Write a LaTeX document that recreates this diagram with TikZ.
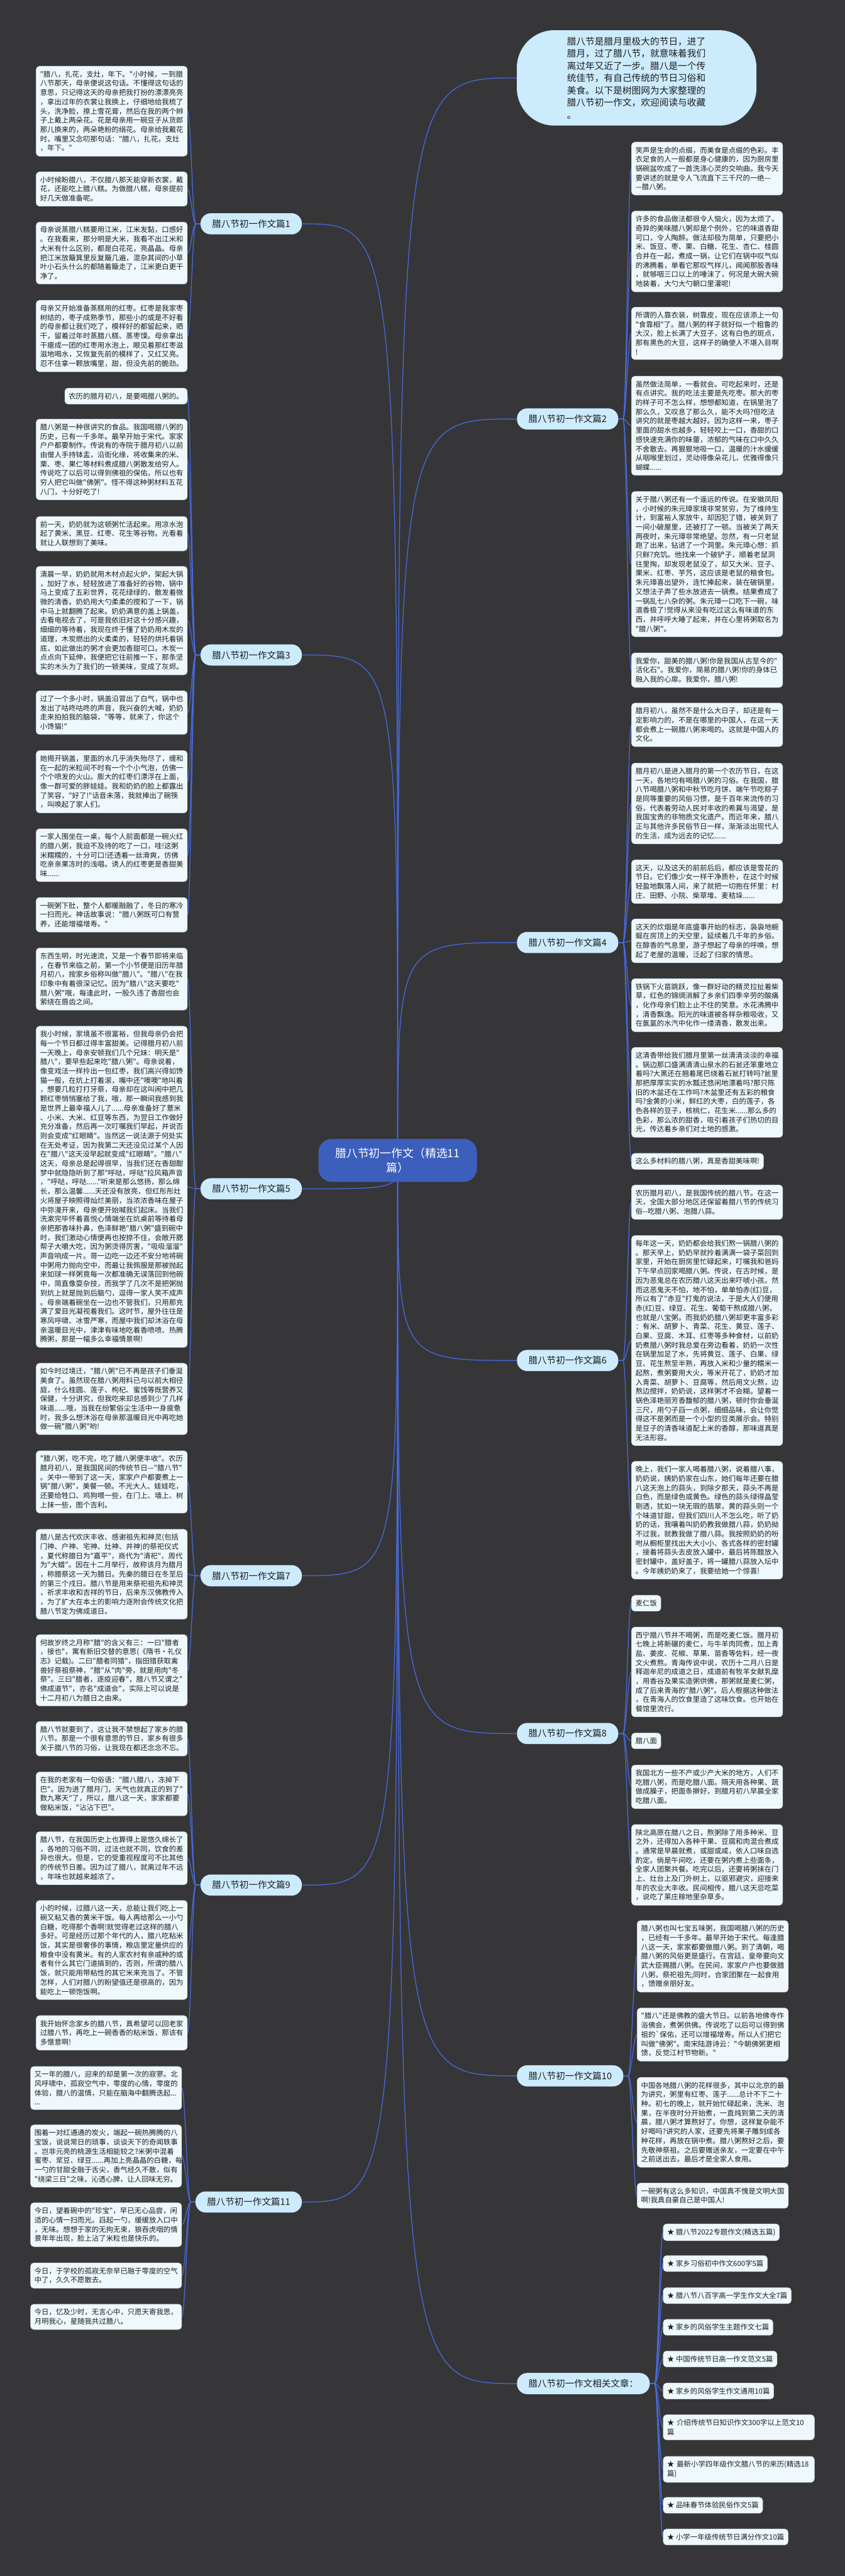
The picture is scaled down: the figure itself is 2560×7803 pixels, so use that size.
\documentclass[tikz,border=0pt]{standalone}
\usepackage{fontspec}
\setmainfont{Noto Sans CJK SC}[Ligatures=TeXOff]
\usetikzlibrary{backgrounds}
\definecolor{bgdark}{RGB}{54,54,56}
\definecolor{linkblue}{RGB}{72,106,222}
\definecolor{leaffill}{RGB}{239,249,253}
\definecolor{leafline}{RGB}{205,220,230}
\definecolor{pillfill}{RGB}{204,235,252}
\definecolor{rootblue}{RGB}{60,95,190}
\definecolor{inkdark}{RGB}{30,30,30}
\begin{document}
\begin{tikzpicture}[x=0.5pt,y=-0.5pt,
  leafbase/.style={draw=leafline,line width=0.5pt,fill=leaffill,rounded corners=5pt,inner xsep=6pt,inner ysep=7pt,text=inkdark,font=\fontsize{10.85pt}{14pt}\selectfont},
  leafbox/.style={leafbase,text width=217pt,align=left},
  pillnode/.style={fill=pillfill,rounded corners=15.5pt,minimum height=32pt,inner xsep=17.5pt,text=inkdark,font=\fontsize{13.85pt}{16pt}\selectfont},
  introbubble/.style={fill=pillfill,rounded corners=57pt,minimum width=363pt,minimum height=144.5pt,text width=211pt,align=left,text=inkdark,font=\fontsize{14pt}{18.6pt}\selectfont},
  rootnode/.style={fill=rootblue,rounded corners=20pt,minimum width=240pt,minimum height=65pt,align=center,text=white,font=\fontsize{17pt}{22pt}\selectfont},
  link/.style={draw=linkblue,line width=1.2pt}]
\useasboundingbox (0,0) rectangle (2560,7803);
\begin{scope}[on background layer]
\fill[bgdark] (0,0) rectangle (2560,7803);
\end{scope}

% centre and intro
\node[rootnode] (root) at (1205,3515) {腊八节初一作文（精选11\\篇）};
\node[introbubble] (intro) at (1929,236) {腊八节是腊月里极大的节日，进了\\腊月，过了腊八节，就意味着我们\\离过年又近了一步。腊八是一个传\\统佳节，有自己传统的节日习俗和\\美食。以下是树图网为大家整理的\\腊八节初一作文，欢迎阅读与收藏\\。};

% branches
\node[pillnode,anchor=east] (p1) at (915,678) {腊八节初一作文篇1};
\node[pillnode,anchor=east] (p3) at (915,1984) {腊八节初一作文篇3};
\node[pillnode,anchor=east] (p5) at (915,3601) {腊八节初一作文篇5};
\node[pillnode,anchor=east] (p7) at (915,4773) {腊八节初一作文篇7};
\node[pillnode,anchor=east] (p9) at (915,5710) {腊八节初一作文篇9};
\node[pillnode,anchor=east] (p11) at (915,6670) {腊八节初一作文篇11};
\node[pillnode,anchor=west] (p2) at (1566,1269) {腊八节初一作文篇2};
\node[pillnode,anchor=west] (p4) at (1566,2855) {腊八节初一作文篇4};
\node[pillnode,anchor=west] (p6) at (1566,4121) {腊八节初一作文篇6};
\node[pillnode,anchor=west] (p8) at (1566,5251) {腊八节初一作文篇8};
\node[pillnode,anchor=west] (p10) at (1566,6288) {腊八节初一作文篇10};
\node[pillnode,anchor=west] (prel) at (1566,7220) {腊八节初一作文相关文章：};

% essay 1
\node[leafbox,anchor=north east] (l1a) at (568,200) {"腊八，扎花，支灶，年下。"小时候，一到腊\\八节那天，母亲便说这句话。不懂得这句话的\\意思，只记得这天的母亲把我打扮的漂漂亮亮\\，拿出过年的衣裳让我换上，仔细地给我梳了\\头，洗净脸，擦上雪花膏，然后在我的两个辫\\子上戴上两朵花。花是母亲用一碗豆子从货郎\\那儿换来的，两朵艳粉的绢花。母亲给我戴花\\时，嘴里又念叨那句话："腊八，扎花，支灶\\，年下。"};
\node[leafbox,anchor=north east] (l1b) at (568,520) {小时候盼腊八，不仅腊八那天能穿新衣裳，戴\\花，还能吃上腊八糕。为做腊八糕，母亲提前\\好几天做准备呢。};
\node[leafbox,anchor=north east] (l1c) at (568,672) {母亲说蒸腊八糕要用江米，江米发黏，口感好\\。在我看来，那分明是大米，我看不出江米和\\大米有什么区别，都是白花花，亮晶晶。母亲\\把江米放簸箕里反复簸几遍，混杂其间的小草\\叶小石头什么的都随着簸走了，江米更白更干\\净了。};
\node[leafbox,anchor=north east] (l1d) at (568,909) {母亲又开始准备蒸糕用的红枣。红枣是我家枣\\树结的，枣子成熟季节，那些小的或是不好看\\的母亲都让我们吃了，模样好的都留起来，晒\\干，留着过年时蒸腊八糕、蒸枣馍。母亲拿出\\干瘪成一团的红枣用水泡上，眼见着那红枣滋\\滋地喝水，又恢复先前的模样了，又红又亮。\\忍不住拿一颗放嘴里，甜，但没先前的脆劲。};

% essay 3
\node[leafbase,anchor=north east] (l3a) at (568,1175) {农历的腊月初八，是要喝腊八粥的。};
\node[leafbox,anchor=north east] (l3b) at (568,1269) {腊八粥是一种很讲究的食品。我国喝腊八粥的\\历史，已有一千多年。最早开始于宋代。家家\\户户都要制作。传说有的寺院于腊月初八以前\\由僧人手持钵盂，沿街化缘，将收集来的米、\\栗、枣、果仁等材料煮成腊八粥散发给穷人。\\传说吃了以后可以得到佛祖的保佑，所以也有\\穷人把它叫做"佛粥"。怪不得这种粥材料五花\\八门，十分好吃了!};
\node[leafbox,anchor=north east] (l3c) at (568,1564) {前一天，奶奶就为这顿粥忙活起来。用凉水泡\\起了黄米、黑豆、红枣、花生等谷物。光看着\\就让人联想到了美味。};
\node[leafbox,anchor=north east] (l3d) at (568,1715) {清晨一早，奶奶就用木材点起火炉，架起大锅\\，加好了水，轻轻放进了准备好的谷物，锅中\\马上变成了五彩世界，花花绿绿的，散发着微\\微的清香。奶奶用大勺柔柔的搅和了一下，锅\\中马上就翻腾了起来。奶奶满意的盖上锅盖，\\去看电视去了，可是我依旧对这十分感兴趣，\\细细的等待着，我现在终于懂了奶奶用木炭的\\道理，木炭燃出的火柔柔的，轻轻的烘托着锅\\底，如此做出的粥才会更加香甜可口。木炭一\\点点向下延伸，我便把它往前推一下，那条坚\\实的木头为了我们的一顿美味，变成了灰烬。};
\node[leafbox,anchor=north east] (l3e) at (568,2092) {过了一个多小时，锅盖沿冒出了白气，锅中也\\发出了咕咚咕咚的声音，我兴奋的大喊，奶奶\\走来拍拍我的脑袋，"等等，就来了，你这个\\小馋猫!"};
\node[leafbox,anchor=north east] (l3f) at (568,2273) {她揭开锅盖，里面的水几乎消失殆尽了，缠和\\在一起的米粒间不时有一个个小气泡，仿佛一\\个个喷发的火山。膨大的红枣们漂浮在上面，\\像一群可爱的胖娃娃。我和奶奶的脸上都露出\\了笑容，"好了!"话音未落，我就捧出了碗筷\\，叫唤起了家人们。};
\node[leafbox,anchor=north east] (l3g) at (568,2510) {一家人围坐在一桌，每个人前面都是一碗火红\\的腊八粥，我迫不及待的吃了一口，哇!这粥\\米糯糯的，十分可口!还透着一丝滑爽，仿佛\\吃亲亲果冻时的浅唱。诱人的红枣更是香甜美\\味......};
\node[leafbox,anchor=north east] (l3h) at (568,2718) {一碗粥下肚，整个人都暖融融了，冬日的寒冷\\一扫而光。神话故事说："腊八粥既可口有营\\养，还能增福增寿。"};

% essay 5
\node[leafbox,anchor=north east] (l5a) at (568,2871) {东西生明，时光速流，又是一个春节即将来临\\，在春节来临之前，第一个小节便是旧历年腊\\月初八，按家乡俗称叫做"腊八"。"腊八"在我\\印象中有着很深记忆。因为"腊八"这天要吃"\\腊八粥"哦，每逢此时，一股久违了香甜也会\\萦绕在唇齿之间。};
\node[leafbox,anchor=north east] (l5b) at (568,3108) {我小时候，家境虽不很富裕，但我母亲仍会把\\每一个节日都过得丰富甜美。记得腊月初八前\\一天晚上，母亲安顿我们几个兄妹：明天是"\\腊八"，要早些起来吃"腊八粥"。母亲说着，\\像变戏法一样拎出一包红枣，我们高兴得如馋\\猫一般，在炕上打着滚，嘴中还"噢噢"地叫着\\，想要几粒打打牙祭，母亲却在这叫闹中把几\\颗红枣悄悄塞给了我，哦，那一瞬间我感到我\\是世界上最幸福人儿了......母亲准备好了薏米\\、小米、大米、红豆等东西，为翌日工作做好\\充分准备，然后再一次叮嘱我们早起，并说否\\则会变成"红眼睛"。当然这一说法源于何处实\\在无处考证，因为我第二天还没见过某个人因\\在"腊八"这天没早起就变成"红眼睛"。"腊八"\\这天，母亲总是起得很早，当我们还在香甜酣\\梦中就隐隐听到了那"呼哒，呼哒"拉风箱声音\\，"呼哒，呼哒......"听来是那么悠扬，那么绵\\长，那么温馨......天还没有放亮，但红彤彤灶\\火将屋子映照得灿烂美丽，当浓浓香味在屋子\\中弥漫开来，母亲便开始喊我们起床。当我们\\洗漱完毕怀着喜悦心情端坐在炕桌前等待着母\\亲把那香味扑鼻，色泽鲜艳"腊八粥"盛到碗中\\时，我们激动心情便再也按捺不住，会敞开腮\\帮子大嚼大吃，因为粥烫得厉害，"吸吸溜溜"\\声音响成一片。哥一边吃一边还不安分地将碗\\中粥用力抛向空中，而最让我佩服是那被抛起\\来如球一样粥竟每一次都准确无误落回到他碗\\中，简直像耍杂技，而我学了几次不是把粥抛\\到炕上就是抛到后脑勺，逗得一家人笑不成声\\。母亲端着碗坐在一边也不管我们，只用那充\\满了爱目光凝视着我们。这时节，屋外往往是\\寒风呼啸、冰雪严寒，而屋中我们却沐浴在母\\亲温暖目光中，津津有味地吃着香喷喷、热腾\\腾粥，那是一幅多么幸福情景啊!};
\node[leafbox,anchor=north east] (l5c) at (568,4129) {如今时过境迁，"腊八粥"已不再是孩子们垂涎\\美食了。虽然现在腊八粥用料已与以前大相径\\庭，什么桂圆、莲子、枸杞、蜜饯等既营养又\\保健，十分讲究，但我吃来却总感到少了几样\\味道......哦，当我在纷繁俗尘生活中一身疲惫\\时，我多么想沐浴在母亲那温暖目光中再吃她\\做一碗"腊八粥"哟!};

% essay 7
\node[leafbox,anchor=north east] (l7a) at (568,4394) {"腊八粥，吃不完，吃了腊八粥便丰收"。农历\\腊月初八，是我国民间的传统节日—"腊八节"\\。关中一带到了这一天，家家户户都要煮上一\\锅"腊八粥"，美餐一顿。不光大人、娃娃吃，\\还要给牲口、鸡狗喂一些，在门上、墙上、树\\上抹一些，图个吉利。};
\node[leafbox,anchor=north east] (l7b) at (568,4632) {腊八是古代欢庆丰收、感谢祖先和神灵(包括\\门神、户神、宅神、灶神、井神)的祭祀仪式\\，夏代称腊日为"嘉平"，商代为"清祀"，周代\\为"大蜡"。因在十二月举行，故称该月为腊月\\，称腊祭这一天为腊日。先秦的腊日在冬至后\\的第三个戌日。腊八节是用来祭祀祖先和神灵\\，祈求丰收和吉祥的节日，后来东汉佛教传入\\，为了扩大在本土的影响力逐附会传统文化把\\腊八节定为佛成道日。};
\node[leafbox,anchor=north east] (l7c) at (568,4951) {何故岁终之月称"腊"的含义有三：一曰"腊者\\，接也"，寓有新旧交替的意思(《隋书·礼仪\\志》记载)。二曰"腊者同猎"，指田猎获取禽\\兽好祭祖祭神，"腊"从"肉"旁，就是用肉"冬\\祭"。三曰"腊者，逐疫迎春"，腊八节又谓之"\\佛成道节"，亦名"成道会"，实际上可以说是\\十二月初八为腊日之由来。};

% essay 9
\node[leafbox,anchor=north east] (l9a) at (568,5214) {腊八节就要到了，这让我不禁想起了家乡的腊\\八节。那是一个很有意思的节日，家乡有很多\\关于腊八节的习俗，让我现在都还念念不忘。};
\node[leafbox,anchor=north east] (l9b) at (568,5367) {在我的老家有一句俗语："腊八腊八，冻掉下\\巴"。因为进了腊月门，天气也就真正的到了"\\数九寒天"了，所以，腊八这一天，家家都要\\做粘米饭，"沾沾下巴"。};
\node[leafbox,anchor=north east] (l9c) at (568,5548) {腊八节，在我国历史上也算得上是悠久绵长了\\，各地的习俗不同，过法也就不同，饮食的差\\异也很大。但是，它的受重视程度可不比其他\\的传统节日差。因为过了腊八，就离过年不远\\，年味也就越来越浓了。};
\node[leafbox,anchor=north east] (l9d) at (568,5756) {小的时候，过腊八这一天，总能让我们吃上一\\碗又粘又香的黄米干饭。每人再给那么一小勺\\白糖，吃得那个香啊!就觉得老过这样的腊八\\多好。可是经历过那个年代的人，腊八吃粘米\\饭，其实是很奢侈的事情，粮店里定量供应的\\粮食中没有黄米。有的人家农村有亲戚种的或\\者有什么其它门道搞到的，否则，所谓的腊八\\饭，就只能用带粘性的其它米来充当了。不管\\怎样，人们对腊八的盼望值还是很高的，因为\\能吃上一顿饱饭啊。};
\node[leafbox,anchor=north east] (l9e) at (568,6105) {我开始怀念家乡的腊八节，真希望可以回老家\\过腊八节，再吃上一碗香香的粘米饭，那该有\\多惬意啊!};

% essay 11
\node[leafbox,anchor=north east] (l11a) at (551,6259) {又一年的腊八，迎来的却是第一次的寂寥。北\\风呼啸中，孤寂空气中，零度的心情，零度的\\体验，腊八的温情，只能在脑海中翻腾迭起...\\...};
\node[leafbox,anchor=north east] (l11b) at (551,6436) {围着一对红通通的炭火，端起一碗热腾腾的八\\宝饭，说说常日的琐事，谈谈天下的奇闻轶事\\。岂非元亮的桃源生活相能较之?米粥中混着\\蜜枣、浆豆、绿豆......再加上亮晶晶的白糖，每\\一勺的甘甜全融于舌尖，香气经久不散，似有\\"绕梁三日"之味，沁透心脾，让人回味无穷。};
\node[leafbox,anchor=north east] (l11c) at (551,6672) {今日，望着碗中的"珍宝"，早已无心品尝，闲\\适的心情一扫而光。舀起一勺，缓缓放入口中\\，无味。想想于家的无拘无束，狼吞虎咽的情\\景年年出现，脸上沾了米粒也是快乐的。};
\node[leafbox,anchor=north east] (l11d) at (551,6854) {今日，于学校的孤寂无奈早已融于零度的空气\\中了，久久不愿散去。};
\node[leafbox,anchor=north east] (l11e) at (551,6979) {今日，忆及少时，无言心中，只愿天寄我思，\\月明我心，星随我共过腊八。};

% essay 2
\node[leafbox,anchor=north west] (r2a) at (1913,430) {笑声是生命的点缀，而美食是点缀的色彩。丰\\衣足食的人一般都是身心健康的，因为厨房里\\锅碗盆吹成了一首洗涤心灵的交响曲。我今天\\要讲述的就是令人飞流直下三千尺的一绝—\\—腊八粥。};
\node[leafbox,anchor=north west] (r2b) at (1913,639) {许多的食品做法都很令人恼火，因为太烦了。\\奇异的美味腊八粥却是个例外，它的味道香甜\\可口，令人陶醉。做法却极为简单，只要把小\\米、饭豆、枣、栗、白糖、花生、杏仁、桂圆\\合并在一起，煮成一锅，让它们在锅中叹气似\\的沸腾着，单看它那叹气样儿，闻闻那股香味\\，就够咽三口以上的唾沫了，何况是大碗大碗\\地装着，大勺大勺朝口里灌呢!};
\node[leafbox,anchor=north west] (r2c) at (1913,930) {所谓的人靠衣装，树靠皮，现在应该添上一句\\"食靠相"了。腊八粥的样子就好似一个粗鲁的\\大汉，脸上长满了大豆子，这有白色的斑点，\\那有黑色的大豆，这样子的确使人不堪入目啊\\!};
\node[leafbox,anchor=north west] (r2d) at (1913,1139) {虽然做法简单，一看就会。可吃起来时，还是\\有点讲究。我的吃法主要是先吃枣。那大的枣\\的样子可不怎么样，想想都知道，在锅里泡了\\那么久，又叹息了那么久，能不大吗?但吃法\\讲究的就是枣越大越好。因为这样一来，枣子\\里面的甜水也越多，轻轻咬上一口，香甜的口\\感快速充满你的味蕾，浓郁的气味在口中久久\\不舍散去。再狠狠地吸一口，温暖的汁水缓缓\\从咽喉里划过，灵动得像朵花儿，优雅得像只\\蝴蝶......};
\node[leafbox,anchor=north west] (r2e) at (1913,1488) {关于腊八粥还有一个遥远的传说。在安徽凤阳\\，小时候的朱元璋家境非常贫穷，为了维持生\\计，到富裕人家放牛，却因犯了错，被关到了\\一间小破屋里，还被打了一顿。当被关了两天\\两夜时，朱元璋非常绝望。忽然，有一只老鼠\\跑了出来，钻进了一个洞里。朱元璋心想：抓\\只鲜?充饥。他找来一个破铲子，顺着老鼠洞\\往里掏，却发现老鼠没了，却又大米、豆子、\\栗米、红枣、芋艿，这应该是老鼠的粮食包。\\朱元璋喜出望外，连忙捧起来，装在破锅里，\\又想法子弄了些水放进去一锅煮。结果煮成了\\一锅乱七八杂的粥。朱元璋一口吃下一碗，味\\道香极了!觉得从来没有吃过这么有味道的东\\西，并呼呼大睡了起来，并在心里将粥取名为\\"腊八粥"。};
\node[leafbox,anchor=north west] (r2f) at (1913,1977) {我爱你，甜美的腊八粥!你是我国从古至今的"\\活化石"。我爱你，简易的腊八粥!你的身体已\\融入我的心扉。我爱你，腊八粥!};

% essay 4
\node[leafbox,anchor=north west] (r4a) at (1913,2129) {腊月初八，虽然不是什么大日子，却还是有一\\定影响力的，不是在哪里的中国人，在这一天\\都会煮上一碗腊八粥来喝的。这就是中国人的\\文化。};
\node[leafbox,anchor=north west] (r4b) at (1913,2311) {腊月初八是进入腊月的第一个农历节日，在这\\一天，各地均有喝腊八粥的习俗。在我国，腊\\八节喝腊八粥和中秋节吃月饼、端午节吃粽子\\是同等重要的风俗习惯，是千百年来流传的习\\俗，代表着劳动人民对丰收的希冀与渴望，是\\我国宝贵的非物质文化遗产。而近年来，腊八\\正与其他许多民俗节日一样，渐渐淡出现代人\\的生活，成为远去的记忆......};
\node[leafbox,anchor=north west] (r4c) at (1913,2604) {这天，以及这天的前前后后，都应该是雪花的\\节日。它们像少女一样干净质朴，在这个时候\\轻盈地飘落人间，来了就把一切抱在怀里：村\\庄、田野、小院、柴草堆、麦秸垛......};
\node[leafbox,anchor=north west] (r4d) at (1913,2783) {这天的炊烟是年底盛事开始的标志，袅袅地蜿\\蜒在房顶上的天空里，延续着几千年的乡俗。\\在醇香的气息里，游子想起了母亲的呼唤，想\\起了老屋的温暖，泛起了归家的情思。};
\node[leafbox,anchor=north west] (r4e) at (1913,2964) {铁锅下火苗跳跃，像一群好动的精灵拉扯着柴\\草，红色的锦绸消解了乡亲们四季辛劳的酸痛\\，化作母亲们脸上止不住的笑意。水花沸腾中\\，清香飘逸。阳光的味道被各样杂粮吸收，又\\在氤氲的水汽中化作一缕清香，散发出来。};
\node[leafbox,anchor=north west] (r4f) at (1913,3172) {这清香带给我们腊月里第一丝清清淡淡的幸福\\。锅边那口盛满清清山泉水的石瓮还笨重地立\\着吗?大黑还在翘着尾巴绕着石瓮打转吗?瓮里\\那把厚厚实实的水瓢还悠闲地漂着吗?那只陈\\旧的木盆还在工作吗?木盆里还有五彩的粮食\\吗?金黄的小米，鲜红的大枣，白的莲子，各\\色各样的豆子，核桃仁，花生米......那么多的\\色彩，那么浓的甜香，吸引着孩子们热切的目\\光，传达着乡亲们对土地的感激。};
\node[leafbase,anchor=north west] (r4g) at (1913,3493) {这么多材料的腊八粥，真是香甜美味啊!};

% essay 6
\node[leafbox,anchor=north west] (r6a) at (1913,3589) {农历腊月初八，是我国传统的腊八节。在这一\\天，全国大部分地区还保留着腊八节的传统习\\俗--吃腊八粥、泡腊八蒜。};
\node[leafbox,anchor=north west] (r6b) at (1913,3742) {每年这一天，奶奶都会给我们熬一锅腊八粥的\\。那天早上，奶奶早就拎着满满一袋子菜回到\\家里，开始在厨房里忙碌起来，叮嘱我和爸妈\\下午早点回家喝腊八粥。传说，在古时候，是\\因为恶鬼总在农历腊八这天出来吓唬小孩。然\\而这恶鬼天不怕，地不怕，单单怕赤(红)豆，\\所以有了"赤豆"打鬼的说法，于是大人们便用\\赤(红)豆、绿豆、花生、葡萄干熬成腊八粥，\\也就是八宝粥。而我奶奶腊八粥却更丰富多彩\\：有米、胡萝卜、青菜、花生、黄豆、莲子、\\白果、豆腐、木耳、红枣等多种食材，以前奶\\奶煮腊八粥时我总爱在旁边看着，奶奶一次性\\在锅里加足了水，先将黄豆、莲子、白果、绿\\豆、花生熬至半熟，再放入米和少量的糯米一\\起熬，煮粥要用大火，等米开花了，奶奶才加\\入青菜、胡萝卜、豆腐等，然后用文火熬，边\\熬边搅拌，奶奶说，这样粥才不会糊。望着一\\锅色泽艳丽芳香馥郁的腊八粥，顿时你会垂涎\\三尺，用勺子舀一点粥，细细品味，会让你觉\\得这不是粥而是一个小型的豆类展示会。特别\\是豆子的清香味道配上米的香醇，那味道真是\\无法形容。};
\node[leafbox,anchor=north west] (r6c) at (1913,4426) {晚上，我们一家人喝着腊八粥，说着腊八事，\\奶奶说，姨奶奶家在山东，她们每年还要在腊\\八这天泡上的蒜头，到除夕那天，蒜头不再是\\白色，而是绿色或黄色。绿色的蒜头绿得晶莹\\剔透，犹如一块无瑕的翡翠，黄的蒜头则一个\\个味道甘甜，但我们四川人不怎么吃，听了奶\\奶的话，我嚷着叫奶奶教我做腊八蒜，奶奶拗\\不过我，就教我做了腊八蒜。我按照奶奶的吩\\咐从橱柜里找出大大小小、各式各样的密封罐\\，接着将蒜头去皮放入罐中，最后将陈醋放入\\密封罐中，盖好盖子，将一罐腊八蒜放入坛中\\。今年姨奶奶来了，我要给她一个惊喜!};

% essay 8
\node[leafbase,anchor=north west] (r8a) at (1913,4832) {麦仁饭};
\node[leafbox,anchor=north west] (r8b) at (1913,4928) {西宁腊八节并不喝粥，而是吃麦仁饭。腊月初\\七晚上将新碾的麦仁，与牛羊肉同煮，加上青\\盐、姜皮、花椒、草果、苗香等佐料，经一夜\\文火煮熬。青海传说中说，农历十二月八日是\\释迦牟尼的成道之日，成道前有牧羊女献乳糜\\，用香谷及果实造粥供佛，那粥就是麦仁粥，\\成了后来青海的"腊八粥"。后人根据这种做法\\，在青海人的饮食里造了这味饮食。也开始在\\餐馆里流行。};
\node[leafbase,anchor=north west] (r8c) at (1913,5249) {腊八面};
\node[leafbox,anchor=north west] (r8d) at (1913,5346) {我国北方一些不产或少产大米的地方，人们不\\吃腊八粥，而是吃腊八面。隔天用各种果、蔬\\做成臊子，把面条擀好，到腊月初八早晨全家\\吃腊八面。};
\node[leafbox,anchor=north west] (r8e) at (1913,5526) {陕北高原在腊八之日，熬粥除了用多种米、豆\\之外，还得加入各种干果、豆腐和肉混合煮成\\。通常是早晨就煮，或甜或咸，依人口味自选\\酌定。倘是午间吃，还要在粥内煮上些面条，\\全家人团聚共餐。吃完以后，还要将粥抹在门\\上、灶台上及门外树上，以驱邪避灾，迎接来\\年的农业大丰收。民间相传，腊八这天忌吃菜\\，说吃了莱庄稼地里杂草多。};

% essay 10
\node[leafbox,anchor=north west] (r10a) at (1930,5817) {腊八粥也叫七宝五味粥，我国喝腊八粥的历史\\，已经有一千多年。最早开始于宋代。每逢腊\\八这一天，家家都要做腊八粥。到了清朝，喝\\腊八粥的风俗更是盛行。在宫廷，皇帝要向文\\武大臣赐腊八粥。在民间，家家户户也要做腊\\八粥，祭祀祖先;同时，合家团聚在一起食用\\，馈赠亲朋好友。};
\node[leafbox,anchor=north west] (r10b) at (1930,6082) {"腊八"还是佛教的盛大节日。以前各地佛寺作\\浴佛会，煮粥供佛。传说吃了以后可以得到佛\\祖的`保佑，还可以增福增寿。所以人们把它\\叫做"佛粥"。南宋陆游诗云："今朝佛粥更相\\馈，反觉江村节物新。"};
\node[leafbox,anchor=north west] (r10c) at (1930,6292) {中国各地腊八粥的花样很多，其中以北京的最\\为讲究，粥里有红枣、莲子......总计不下二十\\种。初七的晚上，就开始忙碌起来，洗米、泡\\果，在半夜时分开始煮，一直炖到第二天的清\\晨，腊八粥才算熬好了。你想，这样复杂能不\\好喝吗?讲究的人家，还要先将果子雕刻成各\\种花样，再放在锅中煮。腊八粥熬好之后，要\\先敬神祭祖。之后要赠送亲友，一定要在中午\\之前送出去。最后才是全家人食用。};
\node[leafbox,anchor=north west] (r10d) at (1930,6612) {一碗粥有这么多知识，中国真不愧是文明大国\\啊!我真自豪自己是中国人!};

% related articles
\node[leafbase,anchor=north west] (rel1) at (2009,6736) {★ 腊八节2022专题作文(精选五篇)};
\node[leafbase,anchor=north west] (rel2) at (2009,6832) {★ 家乡习俗初中作文600字5篇};
\node[leafbase,anchor=north west] (rel3) at (2009,6929) {★ 腊八节八百字高一学生作文大全7篇};
\node[leafbase,anchor=north west] (rel4) at (2009,7025) {★ 家乡的风俗学生主题作文七篇};
\node[leafbase,anchor=north west] (rel5) at (2009,7121) {★ 中国传统节日高一作文范文5篇};
\node[leafbase,anchor=north west] (rel6) at (2009,7218) {★ 家乡的风俗学生作文通用10篇};
\node[leafbox,anchor=north west] (rel7) at (2009,7314) {★ 介绍传统节日知识作文300字以上范文10\\篇};
\node[leafbox,anchor=north west] (rel8) at (2009,7440) {★ 最新小学四年级作文腊八节的来历(精选18\\篇)};
\node[leafbase,anchor=north west] (rel9) at (2009,7564) {★ 品味春节体验民俗作文5篇};
\node[leafbase,anchor=north west] (rel10) at (2009,7660) {★ 小学一年级传统节日满分作文10篇};

% connectors
\begin{scope}[on background layer]
\draw[link] (root.center) .. controls (root.center |- intro.west) .. (intro.west);
\foreach \br in {p1,p3,p5,p7,p9,p11}
  \draw[link] (root.center) .. controls (root.center |- \br.east) .. (\br.east);
\foreach \br in {p2,p4,p6,p8,p10,prel}
  \draw[link] (root.center) .. controls (root.center |- \br.west) .. (\br.west);
\foreach \br/\leaves in {p1/{l1a,l1b,l1c,l1d}, p3/{l3a,l3b,l3c,l3d,l3e,l3f,l3g,l3h}, p5/{l5a,l5b,l5c}, p7/{l7a,l7b,l7c}, p9/{l9a,l9b,l9c,l9d,l9e}, p11/{l11a,l11b,l11c,l11d,l11e}}
  \foreach \leaf in \leaves
    \draw[link] (\br.west) -- ++(-14,0) .. controls +(-10,0) and +(10,0) .. (\leaf.east);
\foreach \br/\leaves in {p2/{r2a,r2b,r2c,r2d,r2e,r2f}, p4/{r4a,r4b,r4c,r4d,r4e,r4f,r4g}, p6/{r6a,r6b,r6c}, p8/{r8a,r8b,r8c,r8d,r8e}, p10/{r10a,r10b,r10c,r10d}, prel/{rel1,rel2,rel3,rel4,rel5,rel6,rel7,rel8,rel9,rel10}}
  \foreach \leaf in \leaves
    \draw[link] (\br.east) -- ++(14,0) .. controls +(10,0) and +(-10,0) .. (\leaf.west);
\end{scope}
\end{tikzpicture}
\end{document}
